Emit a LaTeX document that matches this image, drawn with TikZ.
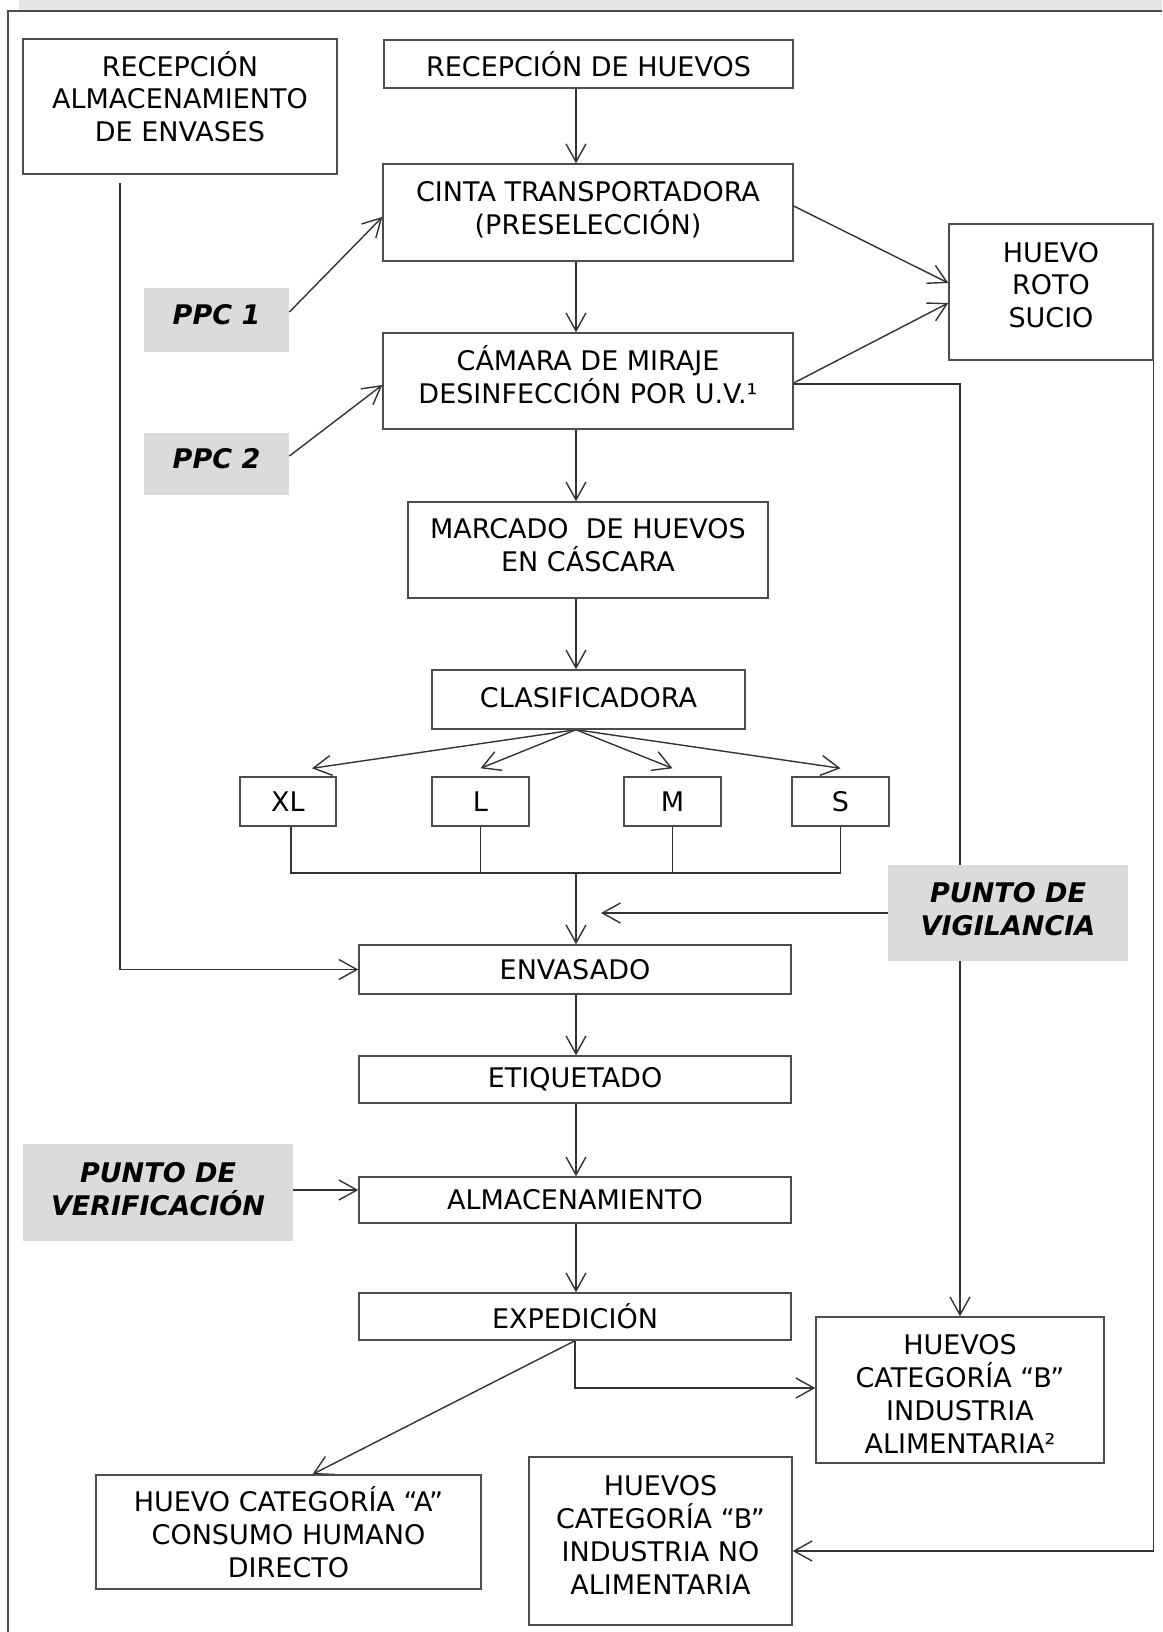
\documentclass[tikz,border=0pt]{standalone}
\usepackage{fontspec}
\setmainfont{DejaVu Sans}
\usetikzlibrary{arrows.meta,backgrounds}
\begin{document}
\begin{tikzpicture}[x=0.5pt,y=-0.5pt,
  every node/.style={font=\fontsize{13.5}{16.4}\selectfont, inner sep=0pt, align=center},
  box/.style={draw=black!70, line width=0.7pt, fill=white},
  lbl/.style={fill=black!14, font=\fontsize{13.5}{16.4}\selectfont\bfseries\itshape},
  bi/.style={font=\fontsize{13.5}{16.4}\selectfont\bfseries\itshape},
  arr/.style={draw=black!80, line width=0.7pt, -{Straight Barb[length=9pt,width=10pt]}},
  ln/.style={draw=black!80, line width=0.7pt}]
\useasboundingbox (0,0) rectangle (1162,1632);
\fill[black!10] (19,0) rectangle (1162,10);
\draw[black!70, line width=0.7pt] (8,1632) -- (8,11) -- (1162,11);

\node[box, minimum width=157pt, minimum height=67.5pt,
  label={[yshift=5pt]center:{RECEPCIÓN\\ALMACENAMIENTO\\DE ENVASES}}] (env) at (180,106.5) {};
\node[box, minimum width=204.5pt, minimum height=24pt] (rech) at (588.5,64) {RECEPCIÓN DE HUEVOS};
\node[box, minimum width=205pt, minimum height=48.5pt,
  label={[yshift=1.5pt]center:{CINTA TRANSPORTADORA\\(PRESELECCIÓN)}}] (cinta) at (588,212.5) {};
\node[box, minimum width=205pt, minimum height=48pt,
  label={[yshift=3pt]center:{CÁMARA DE MIRAJE\\DESINFECCIÓN POR U.V.¹}}] (cam) at (588,381) {};
\node[box, minimum width=102pt, minimum height=68pt,
  label={[yshift=3.5pt]center:{HUEVO\\ROTO\\SUCIO}}] (roto) at (1051,292) {};
\node[lbl, minimum width=72.5pt, minimum height=32pt,
  label={[bi, yshift=2.5pt]center:PPC 1}] (ppc1) at (216.5,320) {};
\node[lbl, minimum width=72.5pt, minimum height=31pt,
  label={[bi, yshift=2.5pt]center:PPC 2}] (ppc2) at (216.5,464) {};
\node[box, minimum width=180pt, minimum height=48pt,
  label={[yshift=2.5pt]center:{MARCADO\ \ DE HUEVOS\\EN CÁSCARA}}] (marc) at (588,550) {};
\node[box, minimum width=156.5pt, minimum height=29.5pt,
  label={[yshift=1pt]center:CLASIFICADORA}] (clas) at (588.5,699.5) {};
\node[box, minimum width=48pt, minimum height=24.5pt] (xl) at (288,801.5) {XL};
\node[box, minimum width=48.5pt, minimum height=24.5pt] (l) at (480.5,801.5) {L};
\node[box, minimum width=48.5pt, minimum height=24.5pt] (m) at (672.5,801.5) {M};
\node[box, minimum width=48.5pt, minimum height=24.5pt] (s) at (840.5,801.5) {S};
\node[lbl, minimum width=120pt, minimum height=48pt,
  label={[bi, yshift=2pt]center:{PUNTO DE\\VIGILANCIA}}] (vig) at (1008,913) {};
\node[box, minimum width=216pt, minimum height=24.5pt] (envas) at (575,969.5) {ENVASADO};
\node[box, minimum width=216pt, minimum height=23.5pt] (etiq) at (575,1079.5) {ETIQUETADO};
\node[box, minimum width=216pt, minimum height=23pt] (almac) at (575,1200) {ALMACENAMIENTO};
\node[box, minimum width=216pt, minimum height=23.5pt] (exped) at (575,1316.5) {EXPEDICIÓN};
\node[lbl, minimum width=135pt, minimum height=48.5pt,
  label={[bi, yshift=1.5pt]center:{PUNTO DE\\VERIFICACIÓN}}] (verif) at (158,1192.5) {};
\node[box, minimum width=144pt, minimum height=73pt,
  label={[yshift=-2pt]center:{HUEVOS\\CATEGORÍA “B”\\INDUSTRIA\\ALIMENTARIA²}}] (catbia) at (960,1390) {};
\node[box, minimum width=131.5pt, minimum height=84pt,
  label={[yshift=3pt]center:{HUEVOS\\CATEGORÍA “B”\\INDUSTRIA NO\\ALIMENTARIA}}] (catbnoa) at (660.5,1541) {};
\node[box, minimum width=192.5pt, minimum height=57pt] (cata) at (288.5,1532) {HUEVO CATEGORÍA “A”\\CONSUMO HUMANO\\DIRECTO};

\coordinate (col) at (576,0);
\coordinate (envo) at (120,183);
\coordinate (jn) at (576,873);
\coordinate (vigtip) at (601,913);
\coordinate (noatgt) at ([yshift=-5pt]catbnoa.east);

\begin{scope}[on background layer]
\draw[arr] (rech.south -| col) -- (cinta.north -| col);
\draw[arr] (cinta.south -| col) -- (cam.north -| col);
\draw[arr] (cam.south -| col) -- (marc.north -| col);
\draw[arr] (marc.south -| col) -- (clas.north -| col);
\draw[arr] ([yshift=4pt]ppc1.east) -- ([yshift=-2.25pt]cinta.west);
\draw[arr] ([yshift=4pt]ppc2.east) -- ([yshift=-2pt]cam.west);
\draw[arr] ([yshift=3.25pt]cinta.east) -- ([yshift=4.5pt]roto.west);
\draw[arr] ([yshift=-1pt]cam.east) -- ([yshift=-5.5pt]roto.west);
\draw[arr] ([yshift=-1.5pt]cam.east) -| (catbia.north);
\draw[arr] (roto.south east) -- (roto.south east |- noatgt) -- (noatgt);
\draw[arr] (envo) |- (envas.west);
\draw[arr] (clas.south -| col) -- ([xshift=12pt,yshift=4pt]xl.north);
\draw[arr] (clas.south -| col) -- ([yshift=4pt]l.north);
\draw[arr] (clas.south -| col) -- ([yshift=4pt]m.north);
\draw[arr] (clas.south -| col) -- ([yshift=4pt]s.north);
\draw[ln] ([xshift=1.5pt]xl.south) |- (s.south |- jn) -- (s.south);
\draw[ln] (l.south) -- (l.south |- jn);
\draw[ln] (m.south) -- (m.south |- jn);
\draw[arr] (jn) -- (envas.north -| jn);
\draw[arr] (vig.west) -- (vigtip);
\draw[arr] (envas.south -| col) -- (etiq.north -| col);
\draw[arr] (etiq.south -| col) -- (almac.north -| col);
\draw[arr] (almac.south -| col) -- (exped.north -| col);
\draw[arr] ([yshift=1.25pt]verif.east) -- ([yshift=1.25pt]verif.east -| almac.west);
\draw[arr] (exped.south) -- ([xshift=12pt]cata.north);
\draw[arr] (exped.south) |- ([yshift=1pt]catbia.west);
\end{scope}
\end{tikzpicture}
\end{document}
